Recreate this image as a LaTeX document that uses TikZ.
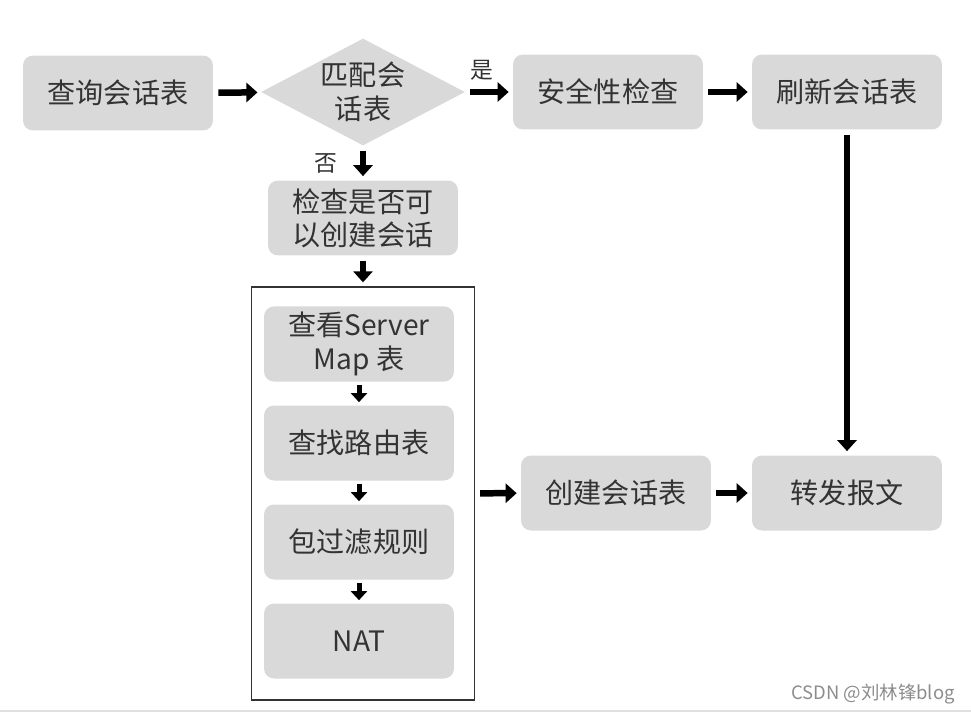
\documentclass[tikz,border=0pt]{standalone}
\usepackage{fontspec}
\setmainfont{Noto Sans CJK SC}
\usetikzlibrary{shapes.geometric,arrows.meta}
\definecolor{boxgray}{HTML}{D9D9D9}
\definecolor{textgray}{HTML}{333333}

\begin{document}
\begin{tikzpicture}[x=0.02cm,y=-0.02cm]
\tikzstyle{box}=[rounded corners=0.2cm,fill=boxgray,text=textgray,minimum width=3.8cm,minimum height=1.5cm,align=center,font=\fontsize{16}{19}\selectfont]
\tikzstyle{decision}=[diamond,aspect=2,inner sep=0pt,fill=boxgray,text=textgray,minimum width=4.08cm,minimum height=2.14cm,align=center,font=\fontsize{16}{19}\selectfont]
\tikzstyle{frame}=[draw=black!80,line width=0.8pt,minimum width=4.46cm,minimum height=8.26cm]
\tikzstyle{arrow}=[line width=0.13cm,-{Triangle[length=0.22cm,width=0.38cm]},shorten <=0.1cm,shorten >=0.08cm]
\tikzstyle{smallarrow}=[line width=0.1cm,-{Triangle[length=0.18cm,width=0.32cm]},shorten <=0.06cm,shorten >=0.06cm]
\tikzstyle{lbl}=[text=textgray,font=\fontsize{13}{15}\selectfont,inner sep=1pt]
\useasboundingbox (0,0) rectangle (971,714);
\node[box] (query) at (118,93) {查询会话表};
\node[decision] (match) at (363,92) {匹配会\\话表};
\node[box] (security) at (608,92) {安全性检查};
\node[box] (refresh) at (847,92) {刷新会话表};
\node[box] (check) at (363,218) {检查是否可\\以创建会话};
\node[frame] (group) at (363,493.5) {};
\node[box] (map) at (359,344) {查看Server\\Map 表};
\node[box] (route) at (359,443) {查找路由表};
\node[box] (filter) at (359,542) {包过滤规则};
\node[box] (nat) at (359,641) {NAT};
\node[box] (create) at (616,493) {创建会话表};
\node[box] (forward) at (847,493) {转发报文};
\node[text=black!45,font=\fontsize{10.5}{12}\selectfont] (csdn) at (873,694) {CSDN @刘林锋blog};
\draw[arrow] (query) -- (match);
\draw[arrow] (match) -- node[lbl,above=4pt,pos=0.35] {是} (security);
\draw[arrow] (security) -- (refresh);
\draw[arrow] (match) -- node[lbl,left=12pt] {否} (check);
\draw[arrow] (check) -- (group);
\draw[smallarrow] (map) -- (route);
\draw[smallarrow] (route) -- (filter);
\draw[smallarrow] (filter) -- (nat);
\draw[arrow] (group) -- (create);
\draw[arrow] (create) -- (forward);
\draw[arrow] (refresh) -- (forward);
\draw[black!12,line width=1.5pt] (0,711) -- (971,711);
\end{tikzpicture}
\end{document}
